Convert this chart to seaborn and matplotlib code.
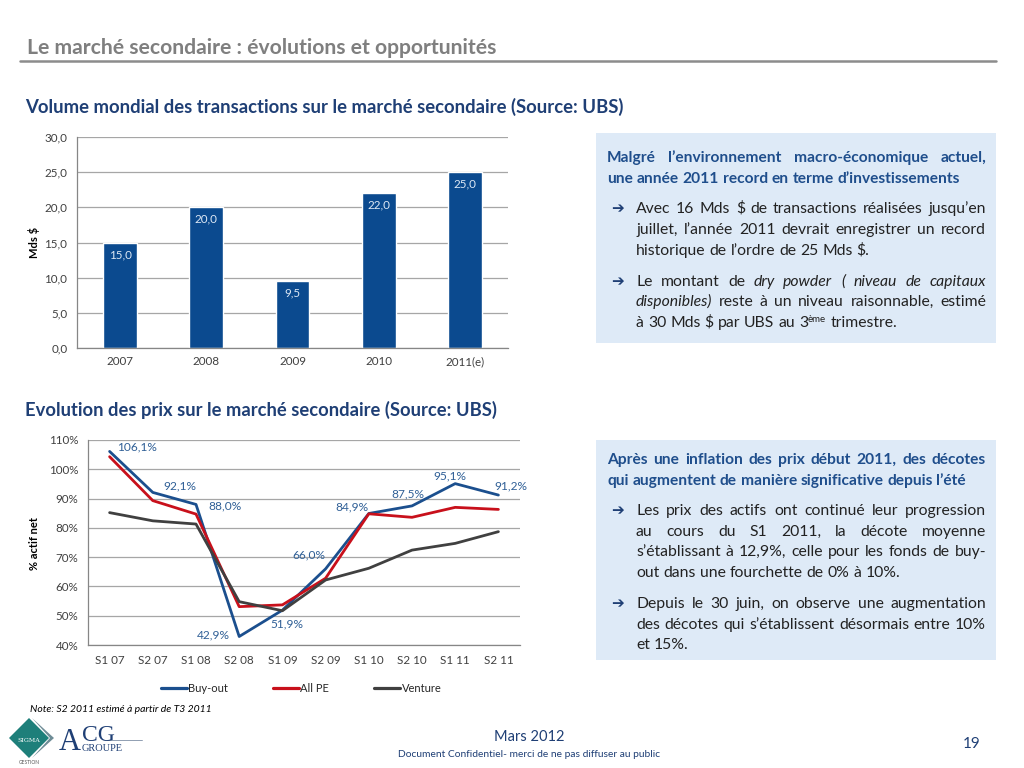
import numpy as np
import pandas as pd
import matplotlib
matplotlib.use("Agg")
import matplotlib.pyplot as plt
from matplotlib.patches import Polygon, Rectangle
import seaborn as sns

# ---------------- DATA ----------------
years = ["2007", "2008", "2009", "2010", "2011(e)"]
volumes = [15.0, 20.0, 9.5, 22.0, 25.0]

periods = ["S1 07", "S2 07", "S1 08", "S2 08", "S1 09",
           "S2 09", "S1 10", "S2 10", "S1 11", "S2 11"]
buyout = [106.1, 92.1, 88.0, 42.9, 51.9, 66.0, 84.9, 87.5, 95.1, 91.2]
all_pe = [104.3, 89.3, 84.7, 53.1, 53.7, 62.8, 84.8, 83.6, 87.0, 86.3]
venture = [85.2, 82.4, 81.3, 54.8, 51.7, 62.2, 66.2, 72.4, 74.7, 78.7]
series_names = ["Buy-out", "All PE", "Venture"]

# ---------------- STYLE ----------------
sns.set_style("white")
FONT = ["Lato", "DejaVu Sans"]
plt.rcParams["font.family"] = FONT

BAR_BLUE = "#0B4A8F"
LINE_COLORS = {"Buy-out": "#1B4F8E", "All PE": "#C8101B", "Venture": "#404040"}
GRID = "#A6A6A6"
AXIS = "#868686"
TICK_TXT = "#404040"
HEAD_BLUE = "#1F4E8C"
DARK_BLUE = "#1F3F75"
BOX_FILL = "#DEEAF7"
TICK_FS = 8.4

W, H = 1024, 768
fig = plt.figure(figsize=(W / 100, H / 100), dpi=100)


def rect(x0, y0, x1, y1):
    return [x0 / W, 1 - y1 / H, (x1 - x0) / W, (y1 - y0) / H]


def ftext(x, y, s, **kw):
    return fig.text(x / W, 1 - y / H, s, **kw)


# ---------------- HEADER ----------------
ftext(27, 54, "Le marché secondaire : évolutions et opportunités",
      fontsize=15.2, weight="bold", color="#7F7F7F", va="baseline")
fig.add_artist(plt.Line2D([20 / W, 996 / W], [1 - 61 / H, 1 - 61 / H],
                          color="#8C8C8C", lw=1.8, transform=fig.transFigure))
ftext(25, 113, "Volume mondial des transactions sur le marché secondaire (Source: UBS)",
      fontsize=13.3, weight="bold", color=DARK_BLUE, va="baseline")
ftext(25, 416, "Evolution des prix sur le marché secondaire (Source: UBS)",
      fontsize=13.2, weight="bold", color=DARK_BLUE, va="baseline")

# ---------------- BAR CHART ----------------
ax1 = fig.add_axes(rect(77, 137, 508, 348))
sns.barplot(x=years, y=volumes, color=BAR_BLUE, saturation=1, width=0.39, ax=ax1)
ax1.set_ylim(0, 30)
ax1.set_xlim(-0.5, 4.5)
ax1.set_yticks(np.arange(0, 31, 5))
ax1.set_yticklabels([f"{v:.1f}".replace(".", ",") for v in np.arange(0, 31, 5)])
ax1.yaxis.grid(True, color=GRID, lw=0.9)
ax1.set_axisbelow(True)
for s in ["top", "right"]:
    ax1.spines[s].set_visible(False)
for s in ["left", "bottom"]:
    ax1.spines[s].set_color(AXIS)
    ax1.spines[s].set_linewidth(0.9)
ax1.tick_params(axis="y", length=4, color=AXIS, labelsize=TICK_FS, labelcolor=TICK_TXT, pad=3)
ax1.tick_params(axis="x", which="major", length=0, labelsize=TICK_FS, labelcolor=TICK_TXT, pad=6)
ax1.set_xticks(np.arange(-0.5, 5.0, 1.0), minor=True)
ax1.tick_params(axis="x", which="minor", length=4, color=AXIS)
ax1.set_xlabel("")
ax1.set_ylabel("")
for i, v in enumerate(volumes):
    ax1.annotate(f"{v:.1f}".replace(".", ","), xy=(i, v), xytext=(0, -12),
                 textcoords="offset pixels", ha="center", va="center",
                 fontsize=8.4, color="#DDE8F5")
ftext(34, 242, "Mds $", rotation=90, fontsize=8, weight="bold", color="#000000",
      ha="center", va="center")

# ---------------- LINE CHART ----------------
df = pd.DataFrame({
    "period": periods * 3,
    "value": buyout + all_pe + venture,
    "series": [n for n in series_names for _ in periods],
})
ax2 = fig.add_axes(rect(88, 440, 520, 645))
sns.lineplot(data=df, x="period", y="value", hue="series", palette=LINE_COLORS,
             hue_order=series_names, sort=False, lw=2.0, ax=ax2)
ax2.set_xlim(-0.5, 9.5)
ax2.set_ylim(40, 110)
ax2.set_yticks(np.arange(40, 111, 10))
ax2.set_yticklabels([f"{int(v)}%" for v in np.arange(40, 111, 10)])
ax2.yaxis.grid(True, color=GRID, lw=0.9)
ax2.set_axisbelow(True)
for s in ["top", "right"]:
    ax2.spines[s].set_visible(False)
for s in ["left", "bottom"]:
    ax2.spines[s].set_color(AXIS)
    ax2.spines[s].set_linewidth(0.9)
ax2.tick_params(axis="y", length=4, color=AXIS, labelsize=TICK_FS, labelcolor=TICK_TXT, pad=3)
ax2.tick_params(axis="x", which="major", length=0, labelsize=TICK_FS, labelcolor=TICK_TXT, pad=7)
ax2.set_xticks(np.arange(-0.5, 10.0, 1.0), minor=True)
ax2.tick_params(axis="x", which="minor", length=4, color=AXIS)
ax2.set_xlabel("")
ax2.set_ylabel("")
ftext(35, 543, "% actif net", rotation=90, fontsize=8, weight="bold", color="#000000",
      ha="center", va="center")

label_offsets = [(27, 4), (27, 6), (29, -1), (-26, 2), (4, -14),
                 (-17, 14), (-17, 7), (-4, 12), (-5, 8), (12, 9)]
for i, (v, off) in enumerate(zip(buyout, label_offsets)):
    ax2.annotate(f"{v:.1f}%".replace(".", ","), xy=(i, v), xytext=off,
                 textcoords="offset pixels", ha="center", va="center",
                 fontsize=8.6, color="#2F5F96")

handles, labels = ax2.get_legend_handles_labels()
for h in handles:
    h.set_linewidth(2.3)
ax2.legend(handles, labels, loc="center", bbox_to_anchor=(0.493, -0.21), ncol=3,
           frameon=False, fontsize=8, handlelength=2.4, handletextpad=0.1,
           columnspacing=4.0)

# ---------------- TEXT BOXES ----------------
for (x0, y0, x1, y1) in [(596, 133, 996, 343), (596, 440, 996, 660)]:
    fig.add_artist(Rectangle((x0 / W, 1 - y1 / H), (x1 - x0) / W, (y1 - y0) / H,
                             transform=fig.transFigure, facecolor=BOX_FILL,
                             edgecolor="none", zorder=0))

renderer = fig.canvas.get_renderer()
BODY_FS = 11.3
HEAD_FS = 11.2


def parse(chunks):
    words = []
    pending = True
    for text, kind in chunks:
        parts = text.split(" ")
        for i, p in enumerate(parts):
            if p == "":
                pending = True
                continue
            if i == 0 and words and not pending:
                words[-1].append((p, kind))
            else:
                words.append([(p, kind)])
            pending = False
        pending = text.endswith(" ")
    return words


def run_props(kind, size, weight, color):
    return dict(fontsize=size * (0.62 if kind == "sup" else 1.0),
                fontstyle="italic" if kind == "it" else "normal",
                weight=weight, color=color, va="baseline", ha="left")


def width_of(s, props):
    t = ftext(0, 0, s, **props)
    w = t.get_window_extent(renderer).width
    t.remove()
    return w


def measure(words, size, weight, color):
    measured = []
    for word in words:
        runs = []
        for txt, kind in word:
            props = run_props(kind, size, weight, color)
            runs.append((txt, kind, props, width_of(txt, props)))
        measured.append(runs)
    base = run_props("n", size, weight, color)
    space = width_of("a a", base) - width_of("aa", base)
    return measured, space


def draw_line(x0, x1, y, chunks, size, color, justify, weight="normal"):
    words = parse(chunks)
    measured, space = measure(words, size, weight, color)
    word_w = [sum(r[3] for r in runs) for runs in measured]
    natural = sum(word_w) + space * (len(words) - 1)
    if natural > x1 - x0:
        size = size * (x1 - x0) / natural * 0.985
        measured, space = measure(words, size, weight, color)
        word_w = [sum(r[3] for r in runs) for runs in measured]
    gap = space
    if justify and len(words) > 1:
        gap = (x1 - x0 - sum(word_w)) / (len(words) - 1)
    x = x0
    for runs, ww in zip(measured, word_w):
        xr = x
        for txt, kind, props, w in runs:
            dy = -5 if kind == "sup" else 0
            ftext(xr, y + dy, txt, **props)
            xr += w
        x += ww + gap


def paragraph(x0, x1, ys, lines, size, color, weight="normal", arrow=False):
    for k, (y, chunks) in enumerate(zip(ys, lines)):
        draw_line(x0, x1, y, chunks, size, color, k < len(lines) - 1, weight)
    if arrow:
        ftext(611, ys[0], "\u2794", family=["DejaVu Sans"], fontsize=11,
              color=DARK_BLUE, va="baseline", weight="bold")


N, I = "n", "it"
# box 1
paragraph(607, 986, [162, 183], [
    [("Malgré l’environnement macro-économique actuel,", N)],
    [("une année 2011 record en terme d’investissements", N)],
], HEAD_FS, HEAD_BLUE, weight="bold")
paragraph(636, 986, [213, 234, 255], [
    [("Avec 16 Mds $ de transactions réalisées jusqu’en", N)],
    [("juillet, l’année 2011 devrait enregistrer un record", N)],
    [("historique de l’ordre de 25 Mds $.", N)],
], BODY_FS, "#222222", arrow=True)
paragraph(636, 986, [286, 306, 327], [
    [("Le montant de ", N), ("dry powder ( niveau de capitaux", I)],
    [("disponibles)", I), (" reste à un niveau raisonnable, estimé", N)],
    [("à 30 Mds $ par UBS au 3", N), ("ème", "sup"), (" trimestre.", N)],
], BODY_FS, "#222222", arrow=True)

# box 2
paragraph(607, 986, [464, 485], [
    [("Après une inflation des prix début 2011, des décotes", N)],
    [("qui augmentent de manière significative depuis l’été", N)],
], HEAD_FS, HEAD_BLUE, weight="bold")
paragraph(636, 986, [515, 536, 556, 577], [
    [("Les prix des actifs ont continué leur progression", N)],
    [("au cours du S1 2011, la décote moyenne", N)],
    [("s’établissant à 12,9%, celle pour les fonds de buy-", N)],
    [("out dans une fourchette de 0% à 10%.", N)],
], BODY_FS, "#222222", arrow=True)
paragraph(636, 986, [608, 629, 649], [
    [("Depuis le 30 juin, on observe une augmentation", N)],
    [("des décotes qui s’établissent désormais entre 10%", N)],
    [("et 15%.", N)],
], BODY_FS, "#222222", arrow=True)

# ---------------- FOOTER ----------------
ftext(30, 712, "Note: S2 2011 estimé à partir de T3 2011", fontsize=7.5,
      fontstyle="italic", color="#000000", va="baseline")
ftext(529, 741, "Mars 2012", fontsize=10.5, color=DARK_BLUE, ha="center", va="baseline")
ftext(529, 757, "Document Confidentiel- merci de ne pas diffuser au public", fontsize=7.4,
      color=DARK_BLUE, ha="center", va="baseline")
ftext(972, 748, "19", fontsize=11, color=DARK_BLUE, ha="center", va="baseline")

# logo
cx, cy, r = 29, 738, 20
fig.add_artist(Polygon([((cx - r) / W, 1 - cy / H), (cx / W, 1 - (cy - r) / H),
                        ((cx + r) / W, 1 - cy / H), (cx / W, 1 - (cy + r) / H)],
                       closed=True, transform=fig.transFigure,
                       facecolor="#1E7F7A", edgecolor="none"))
fig.add_artist(Polygon([((cx + 3) / W, 1 - (cy - r) / H), ((cx + r + 5) / W, 1 - cy / H),
                        ((cx + 3) / W, 1 - (cy + r) / H), ((cx + r + 1) / W, 1 - cy / H)],
                       closed=True, transform=fig.transFigure,
                       facecolor="#6E8C96", edgecolor="none", zorder=-1))
ftext(cx, cy + 2, "SIGMA", fontsize=4.5, color="white", ha="center", va="center",
      family=["DejaVu Serif"])
ftext(cx, 763, "GESTION", fontsize=3.5, color="#555555", ha="center", va="center")
ftext(59, 750, "A", fontsize=22, color=DARK_BLUE, family=["Liberation Serif"],
      va="baseline")
ftext(82, 741, "CG", fontsize=17, color=DARK_BLUE, family=["Liberation Serif"],
      va="baseline")
ftext(82, 751, "GROUPE", fontsize=7.5, color=DARK_BLUE, family=["Liberation Serif"],
      va="baseline")
fig.add_artist(plt.Line2D([108 / W, 142 / W], [1 - 740 / H, 1 - 740 / H],
                          color="#7F8FA6", lw=0.6, transform=fig.transFigure))

fig.savefig("out.png", dpi=100)
